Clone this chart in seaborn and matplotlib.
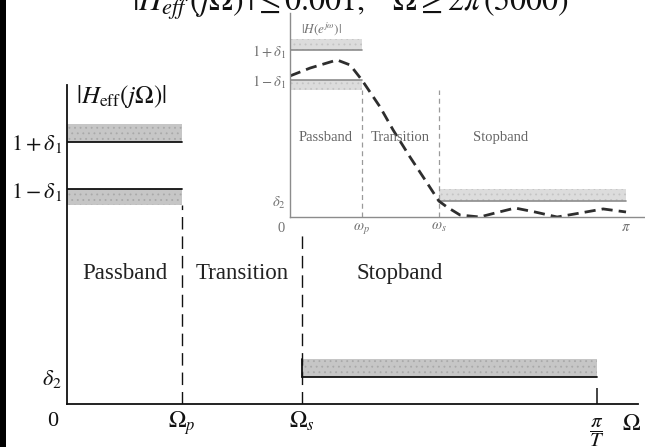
import matplotlib
matplotlib.use("Agg")
import matplotlib.pyplot as plt
import seaborn as sns
import pandas as pd
from matplotlib.patches import Rectangle

# ---- effective continuous-time specification (frequencies in units of Omega_p) ----
omega_p = 1.0
omega_s = 2.043
omega_max = 4.609          # pi / T
delta1 = 0.099
delta2 = 0.115
shade_hi = 0.075           # thickness of the forbidden zone above 1 + delta1
shade_lo = 0.067           # thickness below 1 - delta1
shade_stop = 0.072         # thickness above delta2
omega_s_guide = 0.709      # height of the Omega_s guide line

main_ytick_labels = [r"$1+\delta_1$", r"$1-\delta_1$", r"$\delta_2$"]
main_xtick_labels = [r"$\Omega_p$", r"$\Omega_s$"]
nyquist_label = r"$\dfrac{\pi}{T}$"
region_names = ["Passband", "Transition", "Stopband"]

# ---- discrete-time prototype (frequencies in units of pi) ----
w_p = 0.214
w_s = 0.443
d_delta1 = 0.099
d_delta2 = 0.105
d_shade_hi = 0.072
d_shade_lo = 0.065
d_shade_stop = 0.079
inset_ytick_labels = [r"$1+\delta_1$", r"$1-\delta_1$", r"$\delta_2$"]
inset_xtick_labels = [r"$\omega_p$", r"$\omega_s$", r"$\pi$"]

curve_w = [0.0, 0.060, 0.140, 0.179, 0.214, 0.268, 0.307, 0.357, 0.408, 0.443,
           0.467, 0.506, 0.565, 0.610, 0.670, 0.729, 0.795, 0.863, 0.932, 1.0]
curve_mag = [0.928, 0.980, 1.033, 1.000, 0.901, 0.724, 0.572, 0.395, 0.224, 0.105,
             0.066, 0.013, 0.000, 0.026, 0.059, 0.033, 0.000, 0.026, 0.053, 0.033]

sns.set_theme(style="white")
plt.rcParams["font.family"] = ["Liberation Serif", "DejaVu Serif"]
plt.rcParams["mathtext.fontset"] = "stix"
plt.rcParams["hatch.linewidth"] = 0.6

W, H = 645, 447
fig = plt.figure(figsize=(W / 100, H / 100), dpi=100)
fig.patch.set_facecolor("white")


def px_rect(x0, y0, x1, y1):
    return [x0 / W, 1 - y1 / H, (x1 - x0) / W, (y1 - y0) / H]


ink = "#111111"

# ================= main diagram =================
ax = fig.add_axes(px_rect(67, 85, 638, 404))
ax.set_facecolor("none")
ax.set_xlim(0, 4.965)
ax.set_ylim(0, 1.3375)
for s in ["top", "right"]:
    ax.spines[s].set_visible(False)
for s in ["left", "bottom"]:
    ax.spines[s].set_color(ink)
    ax.spines[s].set_linewidth(1.3)

shade_kw = dict(facecolor="#c6c6c6", edgecolor="#a9a9a9", hatch="...", linewidth=0)
line_kw = dict(color=ink, lw=1.3)

# passband tolerance
ax.fill_between([0, omega_p], 1 + delta1, 1 + delta1 + shade_hi, **shade_kw)
ax.plot([0, omega_p], [1 + delta1, 1 + delta1], **line_kw)
ax.fill_between([0, omega_p], 1 - delta1 - shade_lo, 1 - delta1, **shade_kw)
ax.plot([0, omega_p], [1 - delta1, 1 - delta1], **line_kw)
# stopband tolerance
ax.fill_between([omega_s, omega_max], delta2, delta2 + shade_stop, **shade_kw)
ax.plot([omega_s, omega_max], [delta2, delta2], **line_kw)
ax.plot([omega_s, omega_s], [delta2, delta2 + shade_stop], **line_kw)

# band edges
dash = (0, (9, 5))
ax.plot([omega_p, omega_p], [0, 1 - delta1 - shade_lo], color=ink, lw=1.0, linestyle=dash)
ax.plot([omega_s, omega_s], [0, omega_s_guide], color=ink, lw=1.0, linestyle=dash)

ax.set_yticks([1 + delta1, 1 - delta1, delta2], main_ytick_labels)
ax.set_xticks([omega_p, omega_s], main_xtick_labels)
ax.tick_params(axis="y", length=0, pad=3.6, labelsize=16, colors=ink)
ax.tick_params(axis="x", length=0, pad=4, labelsize=17, colors=ink)
ax.set_yticks([delta2], minor=True)
ax.set_xticks([omega_max], minor=True)
ax.tick_params(which="minor", direction="in", length=11.5, width=1.1, color=ink,
               left=True, bottom=True)

ax.annotate(nyquist_label, xy=(omega_max, 0), xytext=(0, -21), textcoords="offset points",
            ha="center", va="center", fontsize=15, color=ink, annotation_clip=False)
ax.annotate("0", xy=(0, 0), xytext=(-6.5, -12.3), textcoords="offset points",
            ha="right", va="center", fontsize=16, color=ink)
ax.annotate(r"$\Omega$", xy=(omega_max, 0), xytext=(25, -15), textcoords="offset points",
            ha="center", va="center", fontsize=17, color=ink, annotation_clip=False)
fig.text(76 / W, 1 - 96 / H, r"$|H_{\mathrm{eff}}(j\Omega)|$", ha="left", va="center",
         fontsize=18, color=ink)

region_x = [omega_p / 2, (omega_p + omega_s) / 2, omega_s + 0.33 * (omega_max - omega_s)]
for name, xc in zip(region_names, region_x):
    ax.text(xc, 0.549, name, ha="center", va="center", fontsize=16.5, color="#222222")

# ================= discrete-time prototype =================
gray = "#737373"
iax = fig.add_axes(px_rect(290, 13, 645, 217))
iax.set_facecolor("none")
iax.set_xlim(0, 1.0565)
iax.set_ylim(0, 1.342)
for s in ["top", "right"]:
    iax.spines[s].set_visible(False)
for s in ["left", "bottom"]:
    iax.spines[s].set_color("#8c8c8c")
    iax.spines[s].set_linewidth(1.0)

ishade_kw = dict(facecolor="#dcdcdc", edgecolor="#c4c4c4", hatch="...", linewidth=0)
iline_kw = dict(color="#8c8c8c", lw=1.2)
iax.fill_between([0, w_p], 1 + d_delta1, 1 + d_delta1 + d_shade_hi, **ishade_kw)
iax.plot([0, w_p], [1 + d_delta1, 1 + d_delta1], **iline_kw)
iax.fill_between([0, w_p], 1 - d_delta1 - d_shade_lo, 1 - d_delta1, **ishade_kw)
iax.plot([0, w_p], [1 - d_delta1, 1 - d_delta1], **iline_kw)
iax.fill_between([w_s, 1.0], d_delta2, d_delta2 + d_shade_stop, **ishade_kw)
iax.plot([w_s, 1.0], [d_delta2, d_delta2], **iline_kw)

idash = (0, (4, 3))
iax.plot([w_p, w_p], [0, 1 - d_delta1 - d_shade_lo], color="#9a9a9a", lw=0.9, linestyle=idash)
iax.plot([w_s, w_s], [0, 1 - d_delta1 - d_shade_lo], color="#9a9a9a", lw=0.9, linestyle=idash)

curve = pd.DataFrame({"w": curve_w, "mag": curve_mag})
sns.lineplot(data=curve, x="w", y="mag", ax=iax, color="#2e2e2e", lw=2.0,
             linestyle=(0, (4, 2.2)), estimator=None, sort=False)
iax.set_xlabel("")
iax.set_ylabel("")

iax.set_yticks([1 + d_delta1, 1 - d_delta1, d_delta2], inset_ytick_labels)
iax.set_xticks([w_p, w_s, 1.0], inset_xtick_labels)
iax.tick_params(axis="both", length=0, pad=3, labelsize=10.5, colors=gray)
iax.set_yticks([d_delta2], minor=True)
iax.set_xticks([1.0], minor=True)
iax.tick_params(which="minor", direction="in", length=6, width=0.9, color="#8c8c8c",
                left=True, bottom=True)
iax.annotate("0", xy=(0, 0), xytext=(-6.5, -8), textcoords="offset points",
             ha="center", va="center", fontsize=10.5, color=gray)
fig.text(301 / W, 1 - 29 / H, r"$|H(e^{j\omega})|$", ha="left", va="center",
         fontsize=9.5, color=gray)

iregion_x = [w_p / 2, (w_p + w_s) / 2, w_s + 0.33 * (1.0 - w_s)]
for name, xc in zip(region_names, iregion_x):
    iax.text(xc, 0.52, name, ha="center", va="center", fontsize=10.5, color="#666666")

# ---- design requirement heading ----
fig.text(351 / W, 1 - 11 / H,
         r"$|H_{eff}\,(j\Omega)\,| \leq 0.001,\quad \Omega \geq 2\pi\,(5000)$",
         ha="center", va="baseline", fontsize=23, color=ink)

# dark binding edge on the left
fig.add_artist(Rectangle((0, 0), 6 / W, 1, transform=fig.transFigure,
                         facecolor="black", edgecolor="none"))

fig.savefig("out.png", dpi=100)
